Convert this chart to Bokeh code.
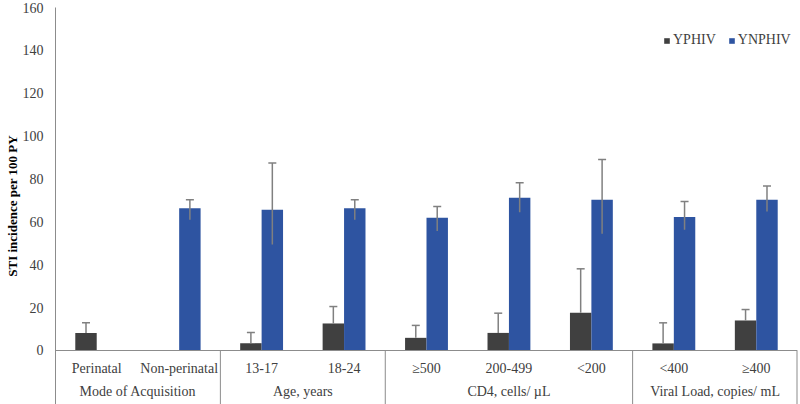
import math
from bokeh.plotting import figure
from bokeh.models import (FactorRange, ColumnDataSource, Legend, LegendItem,
                          FixedTicker, Range1d)
from bokeh.transform import dodge
from bokeh.embed import file_html
from bokeh.resources import INLINE

NaN = float("nan")

groups = ["Mode of Acquisition", "Mode of Acquisition",
          "Age, years", "Age, years",
          "CD4, cells/ µL", "CD4, cells/ µL", "CD4, cells/ µL",
          "Viral Load, copies/ mL", "Viral Load, copies/ mL"]
subcats = ["Perinatal", "Non-perinatal", "13-17", "18-24",
           "≥500", "200-499", "<200", "<400", "≥400"]

yphiv = [8.1, NaN, 3.4, 12.6, 5.9, 8.2, 17.6, 3.3, 14.0]
yphiv_upper = [12.9, NaN, 8.4, 20.5, 11.7, 17.4, 38.1, 12.9, 19.1]

ynphiv = [NaN, 66.4, 65.6, 66.4, 61.9, 71.2, 70.3, 62.3, 70.3]
ynphiv_lower = [NaN, 61.0, 49.4, 61.0, 55.7, 64.5, 54.4, 56.3, 64.8]
ynphiv_upper = [NaN, 70.3, 87.5, 70.3, 67.2, 78.2, 89.1, 69.5, 76.7]

y_ticks = [0, 20, 40, 60, 80, 100, 120, 140, 160]

factors = list(zip(groups, subcats))
src = ColumnDataSource(dict(cat=factors, yphiv=yphiv, yphiv_upper=yphiv_upper,
                            ynphiv=ynphiv, ynphiv_lower=ynphiv_lower,
                            ynphiv_upper=ynphiv_upper))

FONT = "Liberation Serif"
GRAY = "#404040"
BLUE = "#2E54A1"
ERR = "#808080"
AXIS = "#8c8c8c"

xr = FactorRange(*factors, group_padding=0, factor_padding=0, range_padding=0)
p = figure(x_range=xr, y_range=Range1d(-25.2, 160), width=800, height=404,
           output_backend="svg", toolbar_location=None,
           min_border_left=55, min_border_right=3, min_border_top=7,
           min_border_bottom=0)
p.outline_line_color = None
p.grid.grid_line_color = None
p.background_fill_color = "white"
p.border_fill_color = "white"

bw = 0.26
g = p.vbar(x=dodge("cat", -bw / 2, range=xr), top="yphiv", width=bw, source=src,
           fill_color=GRAY, line_color=None)
b = p.vbar(x=dodge("cat", bw / 2, range=xr), top="ynphiv", width=bw, source=src,
           fill_color=BLUE, line_color=None)

# error bars
p.segment(x0=dodge("cat", -bw / 2, range=xr), y0="yphiv",
          x1=dodge("cat", -bw / 2, range=xr), y1="yphiv_upper",
          source=src, line_color=ERR, line_width=1.5)
p.scatter(x=dodge("cat", -bw / 2, range=xr), y="yphiv_upper", marker="dash",
          size=8, line_color=ERR, line_width=1.5, source=src)
p.segment(x0=dodge("cat", bw / 2, range=xr), y0="ynphiv_lower",
          x1=dodge("cat", bw / 2, range=xr), y1="ynphiv_upper",
          source=src, line_color=ERR, line_width=1.5)
p.scatter(x=dodge("cat", bw / 2, range=xr), y="ynphiv_upper", marker="dash",
          size=8, line_color=ERR, line_width=1.5, source=src)

# group separators below the axis
starts = ColumnDataSource(dict(cat=[factors[2], factors[4], factors[7]]))
ends = ColumnDataSource(dict(cat=[factors[-1]]))
p.segment(x0=dodge("cat", -0.5, range=xr), x1=dodge("cat", -0.5, range=xr),
          y0=0, y1=-30, source=starts, line_color=AXIS, line_width=1)
p.segment(x0=dodge("cat", 0.5, range=xr), x1=dodge("cat", 0.5, range=xr),
          y0=0, y1=-30, source=ends, line_color=AXIS, line_width=2)

# axes
ya = p.yaxis[0]
ya.ticker = FixedTicker(ticks=y_ticks)
ya.major_tick_line_color = None
ya.minor_tick_line_color = None
ya.axis_line_color = AXIS
ya.major_label_text_font = FONT
ya.major_label_text_font_size = "14px"
ya.major_label_text_color = "#404040"
ya.major_label_standoff = 6
ya.axis_label = "STI incidence per 100 PY"
ya.axis_label_text_font = FONT
ya.axis_label_text_font_size = "13px"
ya.axis_label_text_font_style = "bold"
ya.axis_label_text_color = "#000000"
ya.axis_label_standoff = 0

xa = p.xaxis[0]
xa.fixed_location = 0
xa.axis_line_color = AXIS
xa.major_tick_line_color = None
xa.minor_tick_line_color = None
xa.major_label_text_font = FONT
xa.major_label_text_font_size = "14px"
xa.major_label_text_color = "#404040"
xa.major_label_standoff = 5
xa.major_label_orientation = "horizontal"
xa.group_text_font = FONT
xa.group_text_font_size = "14px"
xa.group_text_font_style = "normal"
xa.group_text_color = "#404040"
xa.separator_line_color = None

legend = Legend(items=[LegendItem(label="YPHIV", renderers=[g]),
                       LegendItem(label="YNPHIV", renderers=[b])],
                orientation="horizontal", location=(608, 356),
                border_line_color=None, background_fill_alpha=0,
                label_text_font=FONT, label_text_font_size="14px",
                label_text_color="#404040", glyph_width=7, glyph_height=7,
                label_standoff=3, spacing=12, margin=0, padding=0)
p.add_layout(legend)

open("out.html", "w").write(file_html(p, INLINE))
